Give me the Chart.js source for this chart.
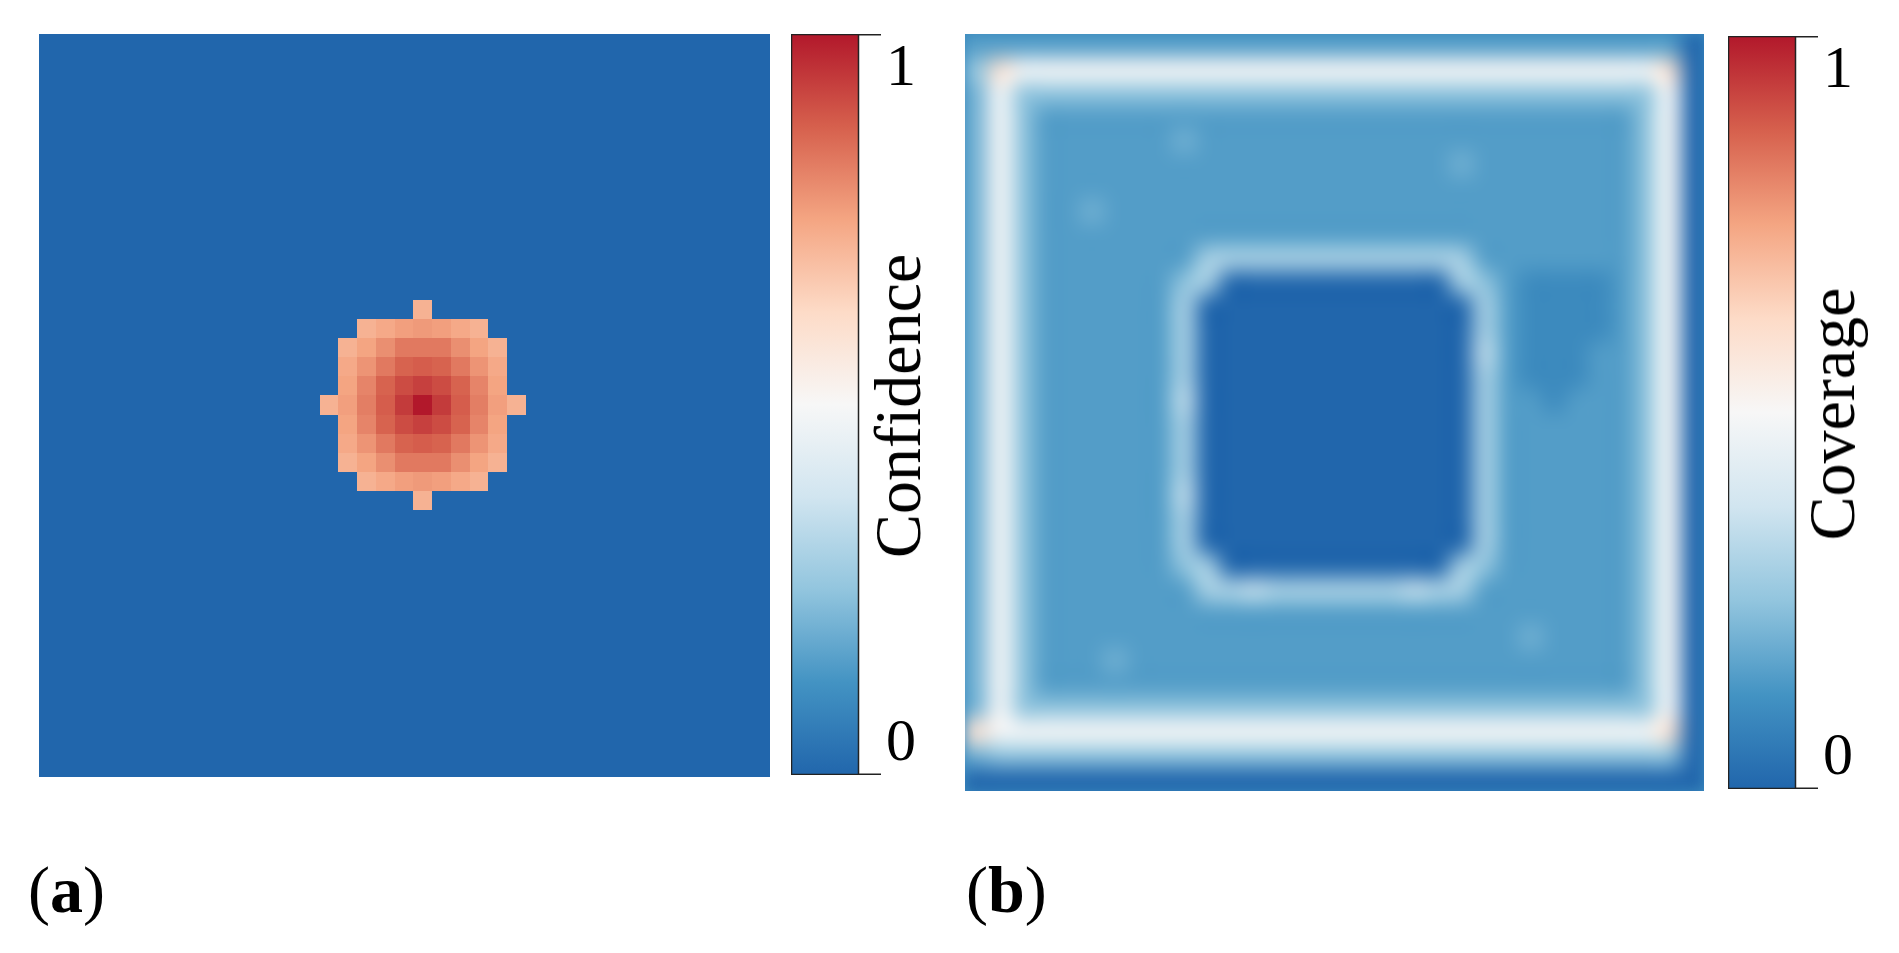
<!DOCTYPE html>
<html lang="en">
<head>
  <meta charset="UTF-8">
  <title>Confidence and Coverage maps</title>
  <script src="https://cdn.jsdelivr.net/npm/chart.js"></script>
  <style>
    body { margin: 0; background: #fff; width: 1899px; height: 953px; position: relative; overflow: hidden; font-family: "Liberation Serif", serif; }
    .box { position: absolute; }
    .label { position: absolute; font-size: 66px; color: #000; white-space: nowrap; }
    .vert { transform: translate(-50%, -50%) rotate(-90deg); }
  </style>
</head>
<body>
  <div class="box" style="left:39px;top:34px;width:731px;height:743px"><canvas id="mapA"></canvas></div>
  <div class="box" style="left:791px;top:34px;width:150px;height:741px"><canvas id="barA"></canvas></div>
  <div class="box" style="left:965px;top:34px;width:739px;height:757px"><canvas id="mapB"></canvas></div>
  <div class="box" style="left:1728px;top:36px;width:150px;height:753px"><canvas id="barB"></canvas></div>

  <div class="label vert" style="left:898px;top:406px">Confidence</div>
  <div class="label vert" style="left:1832px;top:414px">Coverage</div>
  <div class="label" style="left:28px;top:852px">(<b>a</b>)</div>
  <div class="label" style="left:966px;top:852px">(<b>b</b>)</div>

  <script>
    // colour map (blue -> white -> red)
    const cmapStops = ['#2166ac', '#4393c3', '#92c5de', '#d1e5f0', '#f7f7f7', '#fddbc7', '#f4a582', '#d6604d', '#b2182b'];
    const barTicks = ['0', '1'];

    // panel (a): 39x39 grid, blob of confidence values, everything else 0
    const gridA = 39;
    const blobCol = 15, blobRow = 14; // top-left cell of the 11x11 blob block
    const blobA = [
      [null, null, null, null, null, 0.72, null, null, null, null, null],
      [null, null, 0.72, 0.74, 0.76, 0.77, 0.76, 0.74, 0.72, null, null],
      [null, 0.72, 0.75, 0.79, 0.83, 0.83, 0.83, 0.79, 0.75, 0.72, null],
      [null, 0.74, 0.78, 0.83, 0.87, 0.88, 0.87, 0.83, 0.78, 0.74, null],
      [null, 0.75, 0.81, 0.87, 0.91, 0.93, 0.91, 0.87, 0.81, 0.75, null],
      [0.72, 0.76, 0.82, 0.88, 0.94, 1.00, 0.94, 0.88, 0.82, 0.76, 0.72],
      [null, 0.75, 0.81, 0.87, 0.91, 0.93, 0.91, 0.87, 0.81, 0.75, null],
      [null, 0.74, 0.78, 0.83, 0.87, 0.88, 0.87, 0.83, 0.78, 0.74, null],
      [null, 0.72, 0.75, 0.79, 0.83, 0.83, 0.83, 0.79, 0.75, 0.72, null],
      [null, null, 0.72, 0.74, 0.76, 0.77, 0.76, 0.74, 0.72, null, null],
      [null, null, null, null, null, 0.72, null, null, null, null, null]
    ];

    // panel (b): 32x32 coverage grid, one char per cell, value = parseInt(ch, 36) / 20
    const gridB = [
      '3333333333333333' + '333333333333333' + '0',
      '5c' + 'aaaaaaaaaaaaaa' + 'aaaaaaaaaaaaaa' + 'c0',
      '4a' + '55555555555555' + '55555555555555' + 'a0',
      '4a5' + '3333333333333' + '3333333333333' + '5a0',
      '4a5' + '3333334333333' + '3333333333333' + '5a0',
      '4a5' + '3333333333333' + '3333343333333' + '5a0',
      '4a5' + '3333333333333' + '3333333333333' + '5a0',
      '4a5' + '3343333333333' + '3333333333333' + '5a0',
      '4a5' + '3333333333333' + '3333333333333' + '5a0',
      '4a5' + '3333333' + '666666666666' + '3333333' + '5a0',
      '4a5' + '333333' + '56' + '0000000000' + '65' + '322223' + '5a0',
      '4a5' + '333333' + '6' + '000000000000' + '6' + '322223' + '5a0',
      '4a5' + '333333' + '6' + '000000000000' + '6' + '322223' + '5a0',
      '4a5' + '333333' + '6' + '000000000000' + '7' + '322233' + '5a0',
      '4a5' + '333333' + '6' + '000000000000' + '6' + '322233' + '5a0',
      '4a5' + '333333' + '7' + '000000000000' + '6' + '332333' + '5a0',
      '4a5' + '333333' + '6' + '000000000000' + '6' + '333333' + '5a0',
      '4a5' + '333333' + '6' + '000000000000' + '6' + '333333' + '5a0',
      '4a5' + '333333' + '6' + '000000000000' + '6' + '333333' + '5a0',
      '4a5' + '333333' + '7' + '000000000000' + '6' + '333333' + '5a0',
      '4a5' + '333333' + '6' + '000000000000' + '6' + '333333' + '5a0',
      '4a5' + '333333' + '6' + '000000000000' + '6' + '333333' + '5a0',
      '4a5' + '333333' + '56' + '0000000000' + '65' + '333333' + '5a0',
      '4a5' + '3333333' + '667666666766' + '3333333' + '5a0',
      '4a5' + '3333333333333' + '3333333333333' + '5a0',
      '4a5' + '3333333333333' + '3333333343333' + '5a0',
      '4a5' + '3334333333333' + '3333333333333' + '5a0',
      '4a5' + '3333333333333' + '3333333333333' + '5a0',
      '4a' + '55555555555555' + '55555555555555' + 'a0',
      'ca' + 'aaaaaaaaaaaaaa' + 'aaaaaaaaaaaaaa' + 'c0',
      '4' + '555555555555555' + '555555555555555' + '0',
      '0000000000000000' + '0000000000000000'
    ];

    function hexToRgb(h) {
      return [parseInt(h.slice(1, 3), 16), parseInt(h.slice(3, 5), 16), parseInt(h.slice(5, 7), 16)];
    }
    const stopRgb = cmapStops.map(hexToRgb);
    function cmap(v) {
      v = Math.max(0, Math.min(1, v));
      const p = v * (stopRgb.length - 1);
      const i = Math.min(Math.floor(p), stopRgb.length - 2);
      const t = p - i;
      const a = stopRgb[i], b = stopRgb[i + 1];
      return 'rgb(' + [0, 1, 2].map(k => Math.round(a[k] + (b[k] - a[k]) * t)).join(',') + ')';
    }

    const baseOptions = (n, padRight) => ({
      responsive: true,
      maintainAspectRatio: false,
      animation: false,
      layout: { padding: { right: padRight || 0 } },
      plugins: { legend: { display: false }, tooltip: { enabled: false } },
      scales: {
        x: { type: 'linear', min: 0, max: n, display: false },
        y: { type: 'linear', min: 0, max: n, reverse: true, display: false }
      }
    });

    // Heatmap (a): one rect per cell via the scales
    const heatA = {
      id: 'heatA',
      beforeDatasetsDraw(chart) {
        const { ctx, scales: { x, y } } = chart;
        for (let r = 0; r < gridA; r++) {
          for (let c = 0; c < gridA; c++) {
            let v = 0;
            const br = r - blobRow, bc = c - blobCol;
            if (br >= 0 && br < 11 && bc >= 0 && bc < 11 && blobA[br][bc] !== null) v = blobA[br][bc];
            const x0 = x.getPixelForValue(c), x1 = x.getPixelForValue(c + 1);
            const y0 = y.getPixelForValue(r), y1 = y.getPixelForValue(r + 1);
            ctx.fillStyle = cmap(v);
            ctx.fillRect(Math.floor(x0), Math.floor(y0), Math.ceil(x1 - x0) + 1, Math.ceil(y1 - y0) + 1);
          }
        }
      }
    };

    // Heatmap (b): low-res cells upscaled with smoothing + a soft blur
    const heatB = {
      id: 'heatB',
      beforeDatasetsDraw(chart) {
        const { ctx, scales: { x, y } } = chart;
        const n = gridB.length;
        const off = document.createElement('canvas');
        off.width = n; off.height = n;
        const octx = off.getContext('2d');
        gridB.forEach((row, r) => {
          for (let c = 0; c < n; c++) {
            const ch = row[c] || '0';
            octx.fillStyle = cmap(parseInt(ch, 36) / 20);
            octx.fillRect(c, r, 1, 1);
          }
        });
        const x0 = x.getPixelForValue(0), x1 = x.getPixelForValue(n);
        const y0 = y.getPixelForValue(0), y1 = y.getPixelForValue(n);
        ctx.save();
        ctx.beginPath();
        ctx.rect(x0, y0, x1 - x0, y1 - y0);
        ctx.clip();
        ctx.fillStyle = cmap(0.1);
        ctx.fillRect(x0, y0, x1 - x0, y1 - y0);
        ctx.imageSmoothingEnabled = true;
        ctx.imageSmoothingQuality = 'high';
        ctx.filter = 'blur(7px)';
        ctx.drawImage(off, x0, y0, x1 - x0, y1 - y0);
        ctx.restore();
      }
    };

    // Colour bar: gradient + ticks + labels
    const colorBar = {
      id: 'colorBar',
      beforeDatasetsDraw(chart) {
        const { ctx, chartArea: a, scales: { y } } = chart;
        const yTop = y.getPixelForValue(1), yBot = y.getPixelForValue(0);
        const g = ctx.createLinearGradient(0, yBot, 0, yTop);
        cmapStops.forEach((s, i) => g.addColorStop(i / (cmapStops.length - 1), s));
        ctx.fillStyle = g;
        ctx.fillRect(a.left, yTop, a.right - a.left, yBot - yTop);
        ctx.strokeStyle = '#222';
        ctx.lineWidth = 1.5;
        ctx.strokeRect(a.left + 0.5, yTop + 0.5, a.right - a.left - 1, yBot - yTop - 1);
        ctx.fillStyle = '#000';
        ctx.font = '60px "Liberation Serif", serif';
        ctx.textAlign = 'center';
        [[1, barTicks[1], 'top'], [0, barTicks[0], 'bottom']].forEach(([v, t, base]) => {
          const py = y.getPixelForValue(v) + (v ? 0.75 : -0.75);
          ctx.beginPath();
          ctx.moveTo(a.right, py);
          ctx.lineTo(a.right + 22, py);
          ctx.stroke();
          ctx.textBaseline = base;
          ctx.fillText(t, a.right + 42, py + (v ? 4 : 0));
        });
      }
    };
    const barOptions = baseOptions(1, 82);
    barOptions.scales = {
      x: { type: 'linear', min: 0, max: 1, display: false },
      y: { type: 'linear', min: 0, max: 1, display: false }
    };

    new Chart(document.getElementById('mapA'), { type: 'scatter', data: { datasets: [{ data: [] }] }, options: baseOptions(gridA), plugins: [heatA] });
    new Chart(document.getElementById('mapB'), { type: 'scatter', data: { datasets: [{ data: [] }] }, options: baseOptions(gridB.length), plugins: [heatB] });
    new Chart(document.getElementById('barA'), { type: 'scatter', data: { datasets: [{ data: [] }] }, options: barOptions, plugins: [colorBar] });
    new Chart(document.getElementById('barB'), { type: 'scatter', data: { datasets: [{ data: [] }] }, options: barOptions, plugins: [colorBar] });
  </script>
</body>
</html>
